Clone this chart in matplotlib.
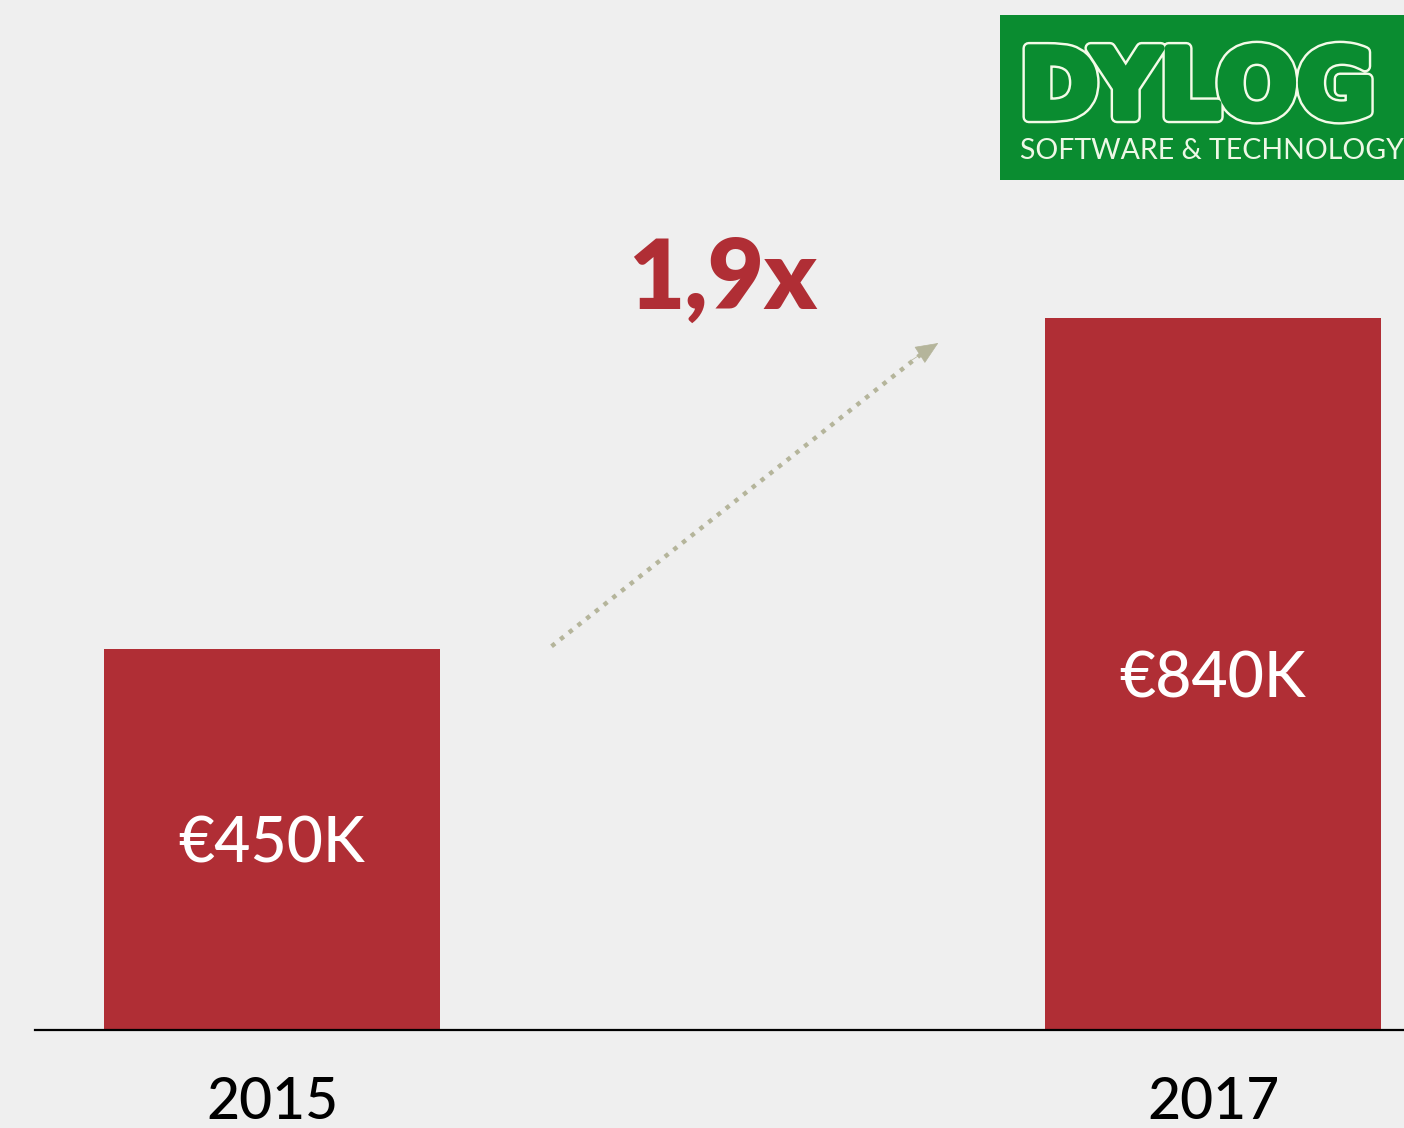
import matplotlib.pyplot as plt
import matplotlib.patheffects as pe

years = ['2015', '2017']
revenue = [450, 840]  # thousand euro
value_labels = ['€450K', '€840K']
growth_label = '1,9x'

bg = '#efefef'
red = '#b02e35'
green = '#0a8c30'
arrow_col = '#b5b59b'

plt.rcParams['font.family'] = ['Lato', 'DejaVu Sans']

fig = plt.figure(figsize=(14.04, 11.28), dpi=100, facecolor=bg)
W, H = 1404, 1128

# main chart axes: x 35..1404 px, baseline at y=1030 px
ax = fig.add_axes([35 / W, (H - 1030) / H, (W - 35) / W, 1030 / H])
ax.set_facecolor(bg)
x = [0, 1]
ax.bar(x, revenue, width=0.357, color=red, zorder=2)
ax.set_xlim(-0.252, 1.203)
ax.set_ylim(0, 1216)
for s in ['top', 'right', 'left']:
    ax.spines[s].set_visible(False)
ax.spines['bottom'].set_linewidth(1.6)
ax.spines['bottom'].set_color('black')
ax.spines['bottom'].set_zorder(3)
ax.set_yticks([])
ax.set_xticks(x)
ax.set_xticklabels(years, fontsize=41, fontweight='medium')
ax.tick_params(axis='x', length=0, pad=33)

for xi, v, lab in zip(x, revenue, value_labels):
    ax.text(xi, v * 0.5, lab, color='white', fontsize=45, fontweight='medium',
            ha='center', va='center_baseline', zorder=3)

# growth arrow: dotted shaft + solid head
ax.plot([0.297, 0.69], [453, 798], color=arrow_col, lw=3.2,
        linestyle=(0, (1, 1.5)), dash_capstyle='butt')
ax.annotate('', xy=(0.708, 811), xytext=(0.68, 791),
            arrowprops=dict(arrowstyle='-|>,head_length=1.5,head_width=0.65',
                            color=arrow_col, lw=0.5, shrinkA=0, shrinkB=0))
ax.text(0.479, 885, growth_label, color=red, fontsize=70, fontweight='heavy',
        ha='center', va='center')

# logo box
lax = fig.add_axes([1000 / W, 1 - 180 / H, 404 / W, 165 / H])
lax.set_xlim(0, 404)
lax.set_ylim(165, 0)
lax.set_facecolor(green)
for s in lax.spines.values():
    s.set_visible(False)
lax.set_xticks([])
lax.set_yticks([])
t = lax.text(20, 76, 'DYLOG', fontsize=68, fontweight='bold', family='DejaVu Sans',
             color=green, ha='left', va='center', clip_on=True)
t.set_path_effects([pe.withStroke(linewidth=9, foreground='#f4fbe8'),
                    pe.withStroke(linewidth=5.5, foreground=green), pe.Normal()])
lax.text(20, 136, 'SOFTWARE & TECHNOLOGY', fontsize=20.5, color='#eef8e6',
         ha='left', va='center', clip_on=True)

fig.savefig('out.png', dpi=100, facecolor=bg)
